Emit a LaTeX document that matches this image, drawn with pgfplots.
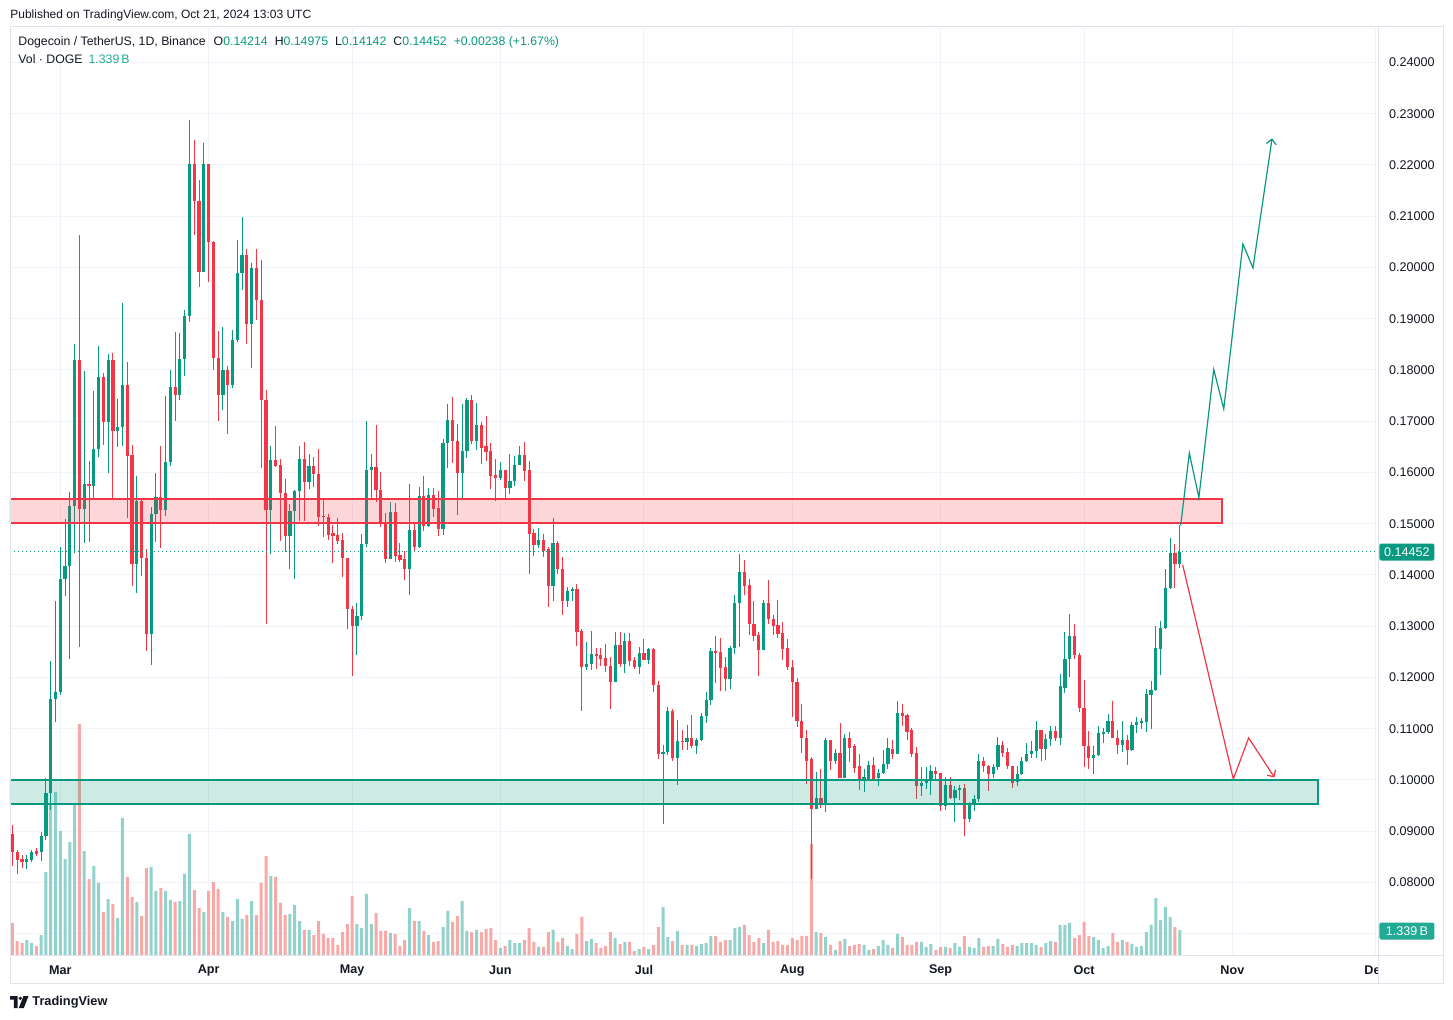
\documentclass[border=0pt]{standalone}
\usepackage{pgfplots}
\pgfplotsset{compat=1.18}
\usepackage{pgfplotstable}
\usepackage{fontspec}
\setmainfont{Liberation Sans}
\usetikzlibrary{arrows.meta}
\definecolor{tvg}{HTML}{089981}
\definecolor{tvr}{HTML}{F23645}
\definecolor{vg}{HTML}{92D2CC}
\definecolor{vr}{HTML}{F7A9A7}
\definecolor{gridc}{HTML}{F0F3FA}
\definecolor{framec}{HTML}{E0E3EB}
\definecolor{txt}{HTML}{131722}
\definecolor{volc}{HTML}{22AB94}

\pgfplotstableread{
d o h l c v
-10 0.0894 0.0913 0.0832 0.0859 1.72
-9 0.0859 0.0863 0.0817 0.0843 0.75
-8 0.0845 0.0854 0.0829 0.0840 0.64
-7 0.0840 0.0854 0.0827 0.0845 0.80
-6 0.0843 0.0863 0.0840 0.0859 0.64
-5 0.0861 0.0867 0.0851 0.0856 0.48
-4 0.0859 0.0899 0.0841 0.0891 1.07
-3 0.0891 0.1004 0.0883 0.0974 4.45
-2 0.0974 0.1233 0.0942 0.1158 8.04
-1 0.1158 0.1350 0.1113 0.1171 8.74
0 0.1171 0.1455 0.1165 0.1393 6.65
1 0.1393 0.1510 0.1359 0.1417 5.15
2 0.1417 0.1562 0.1236 0.1534 6.06
3 0.1534 0.1850 0.1443 0.1819 8.04
4 0.1819 0.2064 0.1260 0.1529 12.38
5 0.1529 0.1798 0.1463 0.1578 5.57
6 0.1578 0.1622 0.1465 0.1574 4.07
7 0.1574 0.1759 0.1551 0.1645 4.77
8 0.1645 0.1846 0.1630 0.1786 3.86
9 0.1786 0.1795 0.1654 0.1699 2.30
10 0.1699 0.1832 0.1599 0.1819 3.00
11 0.1819 0.1834 0.1551 0.1680 2.73
12 0.1680 0.1743 0.1649 0.1689 1.98
13 0.1689 0.1930 0.1652 0.1771 7.34
14 0.1771 0.1815 0.1511 0.1632 4.18
15 0.1634 0.1653 0.1378 0.1422 3.11
16 0.1422 0.1594 0.1364 0.1544 2.84
17 0.1544 0.1551 0.1399 0.1433 2.09
18 0.1433 0.1450 0.1252 0.1285 4.66
19 0.1285 0.1532 0.1225 0.1519 4.72
20 0.1519 0.1599 0.1465 0.1553 3.43
21 0.1553 0.1651 0.1452 0.1527 3.59
22 0.1527 0.1750 0.1515 0.1620 3.43
23 0.1620 0.1800 0.1612 0.1767 2.95
24 0.1767 0.1874 0.1701 0.1752 2.84
25 0.1752 0.1872 0.1742 0.1822 2.89
26 0.1822 0.1918 0.1788 0.1905 4.34
27 0.1905 0.2288 0.1893 0.2201 6.49
28 0.2201 0.2249 0.2064 0.2130 3.48
29 0.2130 0.2170 0.1961 0.1991 2.52
30 0.1991 0.2243 0.1991 0.2201 2.30
31 0.2201 0.2201 0.1971 0.2050 3.43
32 0.2050 0.2052 0.1800 0.1823 3.91
33 0.1823 0.1876 0.1701 0.1752 3.54
34 0.1752 0.1884 0.1721 0.1800 2.30
35 0.1800 0.1808 0.1675 0.1770 2.04
36 0.1770 0.1879 0.1765 0.1859 1.82
37 0.1859 0.2053 0.1854 0.1989 3.00
38 0.1989 0.2099 0.1957 0.2025 1.93
39 0.2025 0.2037 0.1851 0.1890 2.14
40 0.1890 0.2009 0.1803 0.1999 2.89
41 0.1999 0.2036 0.1898 0.1936 2.14
42 0.1936 0.2014 0.1609 0.1741 3.86
43 0.1741 0.1760 0.1305 0.1526 5.31
44 0.1526 0.1652 0.1440 0.1624 4.23
45 0.1624 0.1691 0.1610 0.1612 4.18
46 0.1614 0.1627 0.1466 0.1560 2.79
47 0.1560 0.1588 0.1445 0.1476 2.14
48 0.1476 0.1539 0.1412 0.1524 2.20
49 0.1524 0.1566 0.1392 0.1564 2.68
50 0.1564 0.1652 0.1505 0.1627 1.82
51 0.1627 0.1660 0.1505 0.1582 1.34
52 0.1582 0.1636 0.1567 0.1612 1.34
53 0.1612 0.1630 0.1571 0.1597 1.07
54 0.1597 0.1646 0.1495 0.1514 1.82
55 0.1516 0.1547 0.1475 0.1514 1.13
56 0.1514 0.1519 0.1469 0.1479 0.91
57 0.1482 0.1498 0.1424 0.1477 0.91
58 0.1478 0.1511 0.1461 0.1467 0.54
59 0.1468 0.1482 0.1397 0.1433 1.23
60 0.1433 0.1434 0.1294 0.1333 1.66
61 0.1334 0.1339 0.1202 0.1301 3.16
62 0.1301 0.1346 0.1243 0.1320 1.66
63 0.1320 0.1480 0.1313 0.1461 1.45
64 0.1461 0.1701 0.1455 0.1604 3.27
65 0.1604 0.1636 0.1547 0.1610 1.66
66 0.1610 0.1693 0.1542 0.1565 2.25
67 0.1566 0.1600 0.1494 0.1501 1.29
68 0.1503 0.1521 0.1423 0.1431 1.29
69 0.1431 0.1542 0.1431 0.1522 1.18
70 0.1522 0.1541 0.1426 0.1438 1.13
71 0.1439 0.1463 0.1425 0.1429 0.48
72 0.1431 0.1446 0.1391 0.1412 0.80
73 0.1412 0.1578 0.1360 0.1488 2.52
74 0.1488 0.1500 0.1444 0.1455 1.82
75 0.1455 0.1571 0.1452 0.1555 1.82
76 0.1554 0.1593 0.1485 0.1496 1.29
77 0.1496 0.1570 0.1494 0.1556 1.07
78 0.1556 0.1570 0.1514 0.1529 0.70
79 0.1531 0.1563 0.1476 0.1490 0.75
80 0.1490 0.1666 0.1479 0.1658 1.50
81 0.1658 0.1734 0.1609 0.1703 2.36
82 0.1703 0.1747 0.1619 0.1662 1.77
83 0.1662 0.1695 0.1518 0.1599 2.09
84 0.1599 0.1734 0.1550 0.1641 2.89
85 0.1641 0.1745 0.1628 0.1742 1.29
86 0.1742 0.1751 0.1656 0.1662 1.23
87 0.1662 0.1736 0.1643 0.1692 1.34
88 0.1692 0.1699 0.1617 0.1648 1.23
89 0.1651 0.1711 0.1623 0.1640 1.39
90 0.1641 0.1658 0.1567 0.1594 1.45
91 0.1595 0.1627 0.1545 0.1589 0.80
92 0.1589 0.1620 0.1586 0.1605 0.38
93 0.1605 0.1605 0.1550 0.1570 0.48
94 0.1570 0.1636 0.1558 0.1584 0.80
95 0.1584 0.1633 0.1573 0.1615 0.64
96 0.1615 0.1651 0.1614 0.1635 0.64
97 0.1635 0.1660 0.1584 0.1602 0.80
98 0.1604 0.1623 0.1401 0.1480 1.45
99 0.1482 0.1489 0.1437 0.1459 0.70
100 0.1459 0.1492 0.1453 0.1468 0.43
101 0.1468 0.1480 0.1435 0.1446 0.43
102 0.1451 0.1454 0.1338 0.1379 1.23
103 0.1379 0.1511 0.1349 0.1463 1.34
104 0.1463 0.1467 0.1402 0.1411 0.70
105 0.1412 0.1435 0.1321 0.1350 0.91
106 0.1350 0.1377 0.1338 0.1368 0.48
107 0.1368 0.1377 0.1349 0.1373 0.32
108 0.1373 0.1383 0.1262 0.1288 1.13
109 0.1290 0.1294 0.1135 0.1221 2.04
110 0.1221 0.1269 0.1215 0.1227 0.75
111 0.1227 0.1290 0.1215 0.1245 0.86
112 0.1245 0.1258 0.1217 0.1241 0.64
113 0.1244 0.1257 0.1222 0.1237 0.38
114 0.1239 0.1266 0.1210 0.1222 0.48
115 0.1223 0.1240 0.1138 0.1192 1.23
116 0.1192 0.1288 0.1192 0.1263 0.91
117 0.1263 0.1288 0.1220 0.1227 0.59
118 0.1227 0.1286 0.1208 0.1272 0.70
119 0.1272 0.1286 0.1223 0.1232 0.70
120 0.1234 0.1240 0.1216 0.1220 0.21
121 0.1220 0.1259 0.1207 0.1247 0.32
122 0.1247 0.1276 0.1234 0.1235 0.43
123 0.1235 0.1257 0.1227 0.1255 0.32
124 0.1255 0.1257 0.1171 0.1185 0.54
125 0.1186 0.1193 0.1040 0.1050 1.50
126 0.1050 0.1068 0.0915 0.1055 2.57
127 0.1055 0.1143 0.1048 0.1135 0.96
128 0.1135 0.1138 0.1038 0.1042 0.75
129 0.1042 0.1117 0.0990 0.1076 1.29
130 0.1077 0.1097 0.1059 0.1075 0.54
131 0.1075 0.1107 0.1059 0.1081 0.54
132 0.1081 0.1126 0.1063 0.1066 0.54
133 0.1066 0.1081 0.1050 0.1079 0.48
134 0.1079 0.1131 0.1076 0.1124 0.59
135 0.1124 0.1171 0.1112 0.1156 0.64
136 0.1156 0.1257 0.1147 0.1251 1.02
137 0.1251 0.1281 0.1190 0.1249 1.02
138 0.1249 0.1278 0.1173 0.1218 0.70
139 0.1220 0.1240 0.1173 0.1197 0.80
140 0.1197 0.1262 0.1177 0.1257 0.80
141 0.1257 0.1360 0.1246 0.1345 1.45
142 0.1345 0.1440 0.1259 0.1405 1.50
143 0.1405 0.1429 0.1361 0.1379 1.61
144 0.1380 0.1393 0.1283 0.1304 1.07
145 0.1305 0.1350 0.1271 0.1281 0.70
146 0.1282 0.1289 0.1203 0.1253 0.91
147 0.1253 0.1352 0.1253 0.1345 0.64
148 0.1345 0.1390 0.1304 0.1315 1.34
149 0.1315 0.1322 0.1283 0.1300 0.70
150 0.1302 0.1352 0.1278 0.1285 0.75
151 0.1286 0.1309 0.1234 0.1255 0.54
152 0.1257 0.1276 0.1214 0.1220 0.54
153 0.1221 0.1234 0.1122 0.1192 0.91
154 0.1192 0.1199 0.1104 0.1115 0.80
155 0.1115 0.1149 0.1053 0.1081 1.02
156 0.1082 0.1097 0.0992 0.1038 1.02
157 0.1040 0.1044 0.0806 0.0943 5.95
158 0.0943 0.1016 0.0943 0.0965 1.23
159 0.0965 0.1022 0.0946 0.0956 1.18
160 0.0956 0.1081 0.0937 0.1078 0.96
161 0.1078 0.1079 0.1019 0.1038 0.54
162 0.1038 0.1061 0.1031 0.1053 0.27
163 0.1053 0.1112 0.1003 0.1004 0.75
164 0.1004 0.1089 0.1004 0.1081 0.86
165 0.1081 0.1093 0.1035 0.1063 0.48
166 0.1066 0.1071 0.1014 0.1024 0.54
167 0.1027 0.1051 0.0980 0.1001 0.59
168 0.1001 0.1022 0.0977 0.1005 0.54
169 0.1002 0.1038 0.1000 0.1029 0.27
170 0.1029 0.1045 0.0999 0.1001 0.32
171 0.1003 0.1022 0.0988 0.1014 0.48
172 0.1014 0.1059 0.1012 0.1031 0.80
173 0.1031 0.1081 0.1021 0.1063 0.54
174 0.1061 0.1079 0.1040 0.1050 0.38
175 0.1050 0.1155 0.1050 0.1130 1.13
176 0.1130 0.1149 0.1105 0.1125 0.96
177 0.1126 0.1128 0.1078 0.1093 0.54
178 0.1097 0.1102 0.1045 0.1050 0.54
179 0.1052 0.1065 0.0962 0.0988 0.70
180 0.0988 0.1026 0.0969 0.0995 0.70
181 0.0995 0.1026 0.0983 0.1002 0.43
182 0.1002 0.1030 0.0970 0.1017 0.59
183 0.1017 0.1025 0.1001 0.1011 0.27
184 0.1013 0.1014 0.0939 0.0949 0.43
185 0.0949 0.1006 0.0941 0.0991 0.43
186 0.0991 0.1006 0.0962 0.0965 0.38
187 0.0965 0.0989 0.0918 0.0980 0.64
188 0.0980 0.0991 0.0961 0.0984 0.43
189 0.0984 0.0993 0.0891 0.0923 1.02
190 0.0923 0.0957 0.0918 0.0954 0.43
191 0.0954 0.0970 0.0939 0.0962 0.38
192 0.0962 0.1050 0.0957 0.1038 0.91
193 0.1038 0.1045 0.1015 0.1027 0.43
194 0.1028 0.1030 0.0978 0.1011 0.48
195 0.1011 0.1032 0.1004 0.1026 0.48
196 0.1026 0.1084 0.1019 0.1069 0.86
197 0.1069 0.1077 0.1045 0.1052 0.59
198 0.1054 0.1063 0.1021 0.1027 0.43
199 0.1028 0.1028 0.0985 0.0995 0.54
200 0.0996 0.1027 0.0988 0.1011 0.48
201 0.1011 0.1045 0.1010 0.1038 0.64
202 0.1038 0.1073 0.1035 0.1050 0.64
203 0.1050 0.1076 0.1043 0.1056 0.64
204 0.1056 0.1115 0.1043 0.1098 0.54
205 0.1098 0.1098 0.1038 0.1061 0.43
206 0.1061 0.1089 0.1039 0.1080 0.64
207 0.1080 0.1106 0.1067 0.1095 0.75
208 0.1095 0.1105 0.1077 0.1082 0.70
209 0.1082 0.1207 0.1069 0.1184 1.61
210 0.1180 0.1289 0.1169 0.1236 1.61
211 0.1236 0.1323 0.1201 0.1281 1.72
212 0.1281 0.1305 0.1236 0.1243 0.91
213 0.1244 0.1248 0.1132 0.1140 1.07
214 0.1141 0.1195 0.1026 0.1066 1.77
215 0.1067 0.1095 0.1022 0.1043 1.02
216 0.1043 0.1067 0.1011 0.1048 0.96
217 0.1048 0.1106 0.1047 0.1092 0.80
218 0.1092 0.1102 0.1072 0.1093 0.38
219 0.1093 0.1128 0.1089 0.1116 0.48
220 0.1116 0.1155 0.1081 0.1081 1.18
221 0.1082 0.1097 0.1051 0.1069 0.70
222 0.1069 0.1115 0.1054 0.1079 0.80
223 0.1079 0.1087 0.1030 0.1058 0.70
224 0.1058 0.1113 0.1056 0.1108 0.59
225 0.1108 0.1123 0.1092 0.1113 0.43
226 0.1113 0.1121 0.1100 0.1115 0.48
227 0.1113 0.1177 0.1093 0.1167 1.23
228 0.1166 0.1193 0.1100 0.1175 1.61
229 0.1175 0.1300 0.1174 0.1258 3.06
230 0.1256 0.1311 0.1205 0.1297 1.88
231 0.1296 0.1411 0.1295 0.1374 2.57
232 0.1374 0.1472 0.1372 0.1443 2.04
233 0.1443 0.1460 0.1374 0.1422 1.50
234 0.14214 0.14975 0.14142 0.14452 1.339
}\data

\pgfplotsset{tv/.style={at={(5pt,-477.5pt)}, anchor=south west, width=684pt, height=464.5pt,
  scale only axis, xmin=-10.514, xmax=275.44}}

\begin{document}
\begin{tikzpicture}
\useasboundingbox (0pt,0pt) rectangle (726.5pt,-509.5pt);
\fill[white] (0pt,0pt) rectangle (726.5pt,-509.5pt);

% grid and tick labels
\begin{axis}[tv, ymin=0.06585, ymax=0.24712,
  axis line style={draw=none}, major tick length=0pt,
  ytick={0.08,0.09,0.10,0.11,0.12,0.13,0.14,0.15,0.16,0.17,0.18,0.19,0.20,0.21,0.22,0.23,0.24},
  extra y ticks={0.07}, extra y tick labels={},
  extra y tick style={grid=major, major grid style={draw=gridc, line width=0.5pt}},
  yticklabel pos=right,
  yticklabel style={anchor=west, xshift=2pt, font=\fontsize{6.3}{7}\selectfont, text=txt,
    /pgf/number format/.cd, fixed, fixed zerofill, precision=5, assume math mode=true},
  xtick={0,31,61,92,122,153,184,214,245,275},
  xticklabels={Mar,Apr,May,Jun,Jul,Aug,Sep,Oct,Nov,{}},
  xticklabel style={anchor=center, yshift=-7.5pt, font=\bfseries\fontsize{6.3}{7}\selectfont, text=txt},
  grid=major, major grid style={draw=gridc, line width=0.5pt},
]
\addplot[draw=none] coordinates {(0,0.1)};
\end{axis}

% volume
\begin{axis}[tv, ymin=0, ymax=49.76, hide axis]
\addplot[ybar, bar width=1.5pt, bar shift=0pt, fill=vg, draw=none,
  restrict expr to domain={\thisrow{c}-\thisrow{o}}{0:1}] table[x=d, y=v]{\data};
\addplot[ybar, bar width=1.5pt, bar shift=0pt, fill=vr, draw=none,
  restrict expr to domain={\thisrow{c}-\thisrow{o}}{-1:-0.000001}] table[x=d, y=v]{\data};
\end{axis}

% candles and drawings
\begin{axis}[tv, ymin=0.06585, ymax=0.24712, hide axis]
\addplot[draw=none, restrict expr to domain={\thisrow{c}-\thisrow{o}}{0:1},
  error bars/.cd, y dir=both, y explicit, error mark=none,
  error bar style={draw=tvg, solid, line width=0.5pt}]
  table[x=d, y expr={(\thisrow{h}+\thisrow{l})/2}, y error expr={(\thisrow{h}-\thisrow{l})/2}]{\data};
\addplot[draw=none, restrict expr to domain={\thisrow{c}-\thisrow{o}}{-1:-0.000001},
  error bars/.cd, y dir=both, y explicit, error mark=none,
  error bar style={draw=tvr, solid, line width=0.5pt}]
  table[x=d, y expr={(\thisrow{h}+\thisrow{l})/2}, y error expr={(\thisrow{h}-\thisrow{l})/2}]{\data};
\addplot[draw=none, restrict expr to domain={\thisrow{c}-\thisrow{o}}{0:1},
  error bars/.cd, y dir=both, y explicit, error mark=none,
  error bar style={draw=tvg, solid, line width=1.6pt}]
  table[x=d, y expr={(\thisrow{o}+\thisrow{c})/2}, y error expr={max(abs(\thisrow{c}-\thisrow{o})/2,0.00008)}]{\data};
\addplot[draw=none, restrict expr to domain={\thisrow{c}-\thisrow{o}}{-1:-0.000001},
  error bars/.cd, y dir=both, y explicit, error mark=none,
  error bar style={draw=tvr, solid, line width=1.6pt}]
  table[x=d, y expr={(\thisrow{o}+\thisrow{c})/2}, y error expr={max(abs(\thisrow{c}-\thisrow{o})/2,0.00008)}]{\data};

% zones
\draw[tvr, line width=1pt, fill=tvr, fill opacity=0.2] (axis cs:-10.514,0.15015) rectangle (axis cs:242.8,0.15483);
\draw[tvg, line width=1pt, fill=tvg, fill opacity=0.2] (axis cs:-10.514,0.09532) rectangle (axis cs:262.9,0.10000);

% last price line
\draw[tvg, line width=0.6pt, dash pattern=on 0.7pt off 1.3pt] (axis cs:-10.514,0.14452) -- (axis cs:275.44,0.14452);

% projections
\addplot[tvg, line width=0.6pt, -{Straight Barb[length=2.5pt, width=5pt]}] coordinates {
  (234.2,0.1497) (236.0,0.1638) (238.0,0.1551) (241.1,0.1801) (243.2,0.1724)
  (247.2,0.2046) (249.3,0.1999) (253.3,0.2252)};
\addplot[tvr, line width=0.6pt, -{Straight Barb[length=2.5pt, width=5pt]}] coordinates {
  (234.6,0.1420) (245.2,0.1002) (248.4,0.1082) (253.8,0.1005)};
\end{axis}

% pixel overlay
\begin{scope}[x=0.5pt, y=-0.5pt]
\draw[framec, line width=0.5pt] (10,26) rectangle (1443,983);
\draw[framec, line width=0.5pt] (1378,26) -- (1378,983);
\draw[framec, line width=0.5pt] (10,955) -- (1443,955);

\node[anchor=west, inner sep=0pt, font=\fontsize{6}{7}\selectfont, text=txt] at (10,15)
  {Published on TradingView.com, Oct 21, 2024 13:03 UTC};
\node[anchor=west, inner sep=0pt, font=\fontsize{6.15}{7}\selectfont, text=txt] at (18,42)
  {Dogecoin / TetherUS, 1D, Binance\hspace{4pt}O\textcolor{tvg}{0.14214}\hspace{3.5pt}H\textcolor{tvg}{0.14975}\hspace{3.5pt}L\textcolor{tvg}{0.14142}\hspace{3.5pt}C\textcolor{tvg}{0.14452}\hspace{3.5pt}\textcolor{tvg}{+0.00238 (+1.67\%)}};
\node[anchor=west, inner sep=0pt, font=\fontsize{6.15}{7}\selectfont, text=txt] at (18,59)
  {Vol · DOGE\hspace{3pt}\textcolor{volc}{1.339\,B}};

\node[anchor=west, fill=tvg, text=white, inner sep=0pt, minimum width=27.5pt, minimum height=8.5pt,
  rounded corners=1pt, font=\fontsize{6.3}{7}\selectfont] at (1379,552) {0.14452};
\node[anchor=west, fill=volc, text=white, inner sep=0pt, minimum width=27.5pt, minimum height=8.5pt,
  rounded corners=1pt, font=\fontsize{6.3}{7}\selectfont] at (1379,931) {1.339\,B};

\begin{scope}
\clip (10,956) rectangle (1377.5,983);
\node[font=\bfseries\fontsize{6.3}{7}\selectfont, text=txt] at (1376,970) {Dec};
\end{scope}

% logo
\fill[txt] (10,996) -- (17.5,996) -- (17.5,1008) -- (13.8,1008) -- (13.8,999.6) -- (10,999.6) -- cycle;
\fill[txt] (20.3,998.3) circle (1.8);
\fill[txt] (23.5,996) -- (28.5,996) -- (23.8,1008) -- (18.8,1008) -- cycle;
\node[anchor=west, inner sep=0pt, font=\bfseries\fontsize{6.4}{7}\selectfont, text=txt] at (32,1002) {TradingView};
\end{scope}
\end{tikzpicture}
\end{document}
